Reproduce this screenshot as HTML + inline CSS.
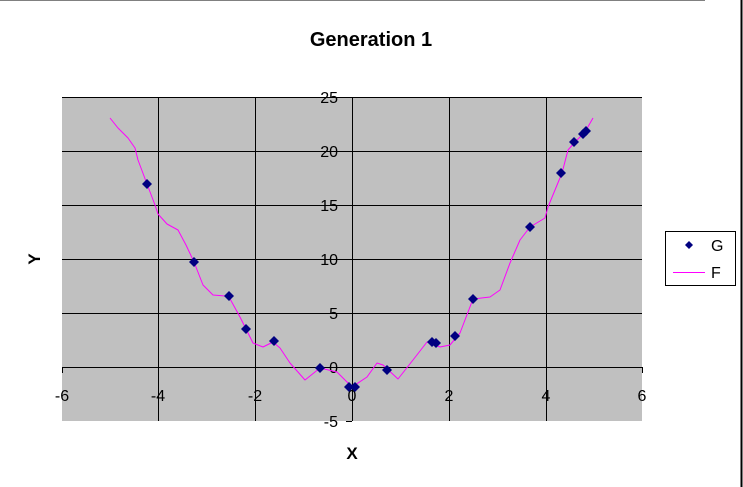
<!DOCTYPE html>
<html><head><meta charset="utf-8"><style>
body{margin:0;background:#fff;}
svg{display:block;font-family:"Liberation Sans",Arial,sans-serif;}
</style></head><body>
<svg width="743" height="487" viewBox="0 0 743 487">
<rect x="0" y="0" width="743" height="487" fill="#fff"/>
<line x1="0" y1="0.5" x2="705" y2="0.5" stroke="#808080"/>
<text x="371" y="46" font-size="20" font-weight="bold" text-anchor="middle">Generation 1</text>
<rect x="62" y="97" width="580" height="324" fill="#c0c0c0"/>
<g stroke="#000" stroke-width="1">
<line x1="62" y1="97.5" x2="642" y2="97.5"/>
<line x1="62" y1="151.5" x2="642" y2="151.5"/>
<line x1="62" y1="205.5" x2="642" y2="205.5"/>
<line x1="62" y1="259.5" x2="642" y2="259.5"/>
<line x1="62" y1="313.5" x2="642" y2="313.5"/>
<line x1="62" y1="367.5" x2="642" y2="367.5"/>
<line x1="158.5" y1="97" x2="158.5" y2="421"/>
<line x1="255.5" y1="97" x2="255.5" y2="421"/>
<line x1="352.5" y1="97" x2="352.5" y2="421"/>
<line x1="449.5" y1="97" x2="449.5" y2="421"/>
<line x1="546.5" y1="97" x2="546.5" y2="421"/>
<line x1="346" y1="97.5" x2="352" y2="97.5"/><line x1="346" y1="151.5" x2="352" y2="151.5"/>
<line x1="346" y1="205.5" x2="352" y2="205.5"/><line x1="346" y1="259.5" x2="352" y2="259.5"/>
<line x1="346" y1="313.5" x2="352" y2="313.5"/><line x1="346" y1="367.5" x2="352" y2="367.5"/>
<line x1="346" y1="421.5" x2="352" y2="421.5"/>
<line x1="62.5" y1="367" x2="62.5" y2="373"/><line x1="158.5" y1="367" x2="158.5" y2="373"/>
<line x1="255.5" y1="367" x2="255.5" y2="373"/><line x1="352.5" y1="367" x2="352.5" y2="373"/>
<line x1="449.5" y1="367" x2="449.5" y2="373"/><line x1="546.5" y1="367" x2="546.5" y2="373"/>
<line x1="642.5" y1="367" x2="642.5" y2="373"/>
</g>
<g font-size="16" text-anchor="end">
<text x="338" y="103">25</text><text x="338" y="157">20</text><text x="338" y="211">15</text>
<text x="338" y="265">10</text><text x="338" y="319">5</text><text x="338" y="373">0</text><text x="338" y="427">-5</text>
</g>
<g font-size="16" text-anchor="middle">
<text x="62" y="401">-6</text><text x="158" y="401">-4</text><text x="255" y="401">-2</text>
<text x="352" y="401">0</text><text x="449" y="401">2</text><text x="546" y="401">4</text><text x="642" y="401">6</text>
</g>
<text x="352" y="459" font-size="17" font-weight="bold" text-anchor="middle">X</text>
<text x="40" y="259" font-size="17" font-weight="bold" text-anchor="middle" transform="rotate(-90 40 259)">Y</text>
<polyline fill="none" stroke="#ff00ff" stroke-width="1" stroke-linejoin="round" points="110,118 118,128 128,138 135,148 138,160 147,184 155,205 158,214 167,224 178,230 186,245 194,262 203,285 213,295 225,296 229,297 240,317 246,329 253,343 263,347 273,342 280,348 290,363 305,380 320,368 337,372 352,387 367,377 377,363 383,365 398,379 413,360 427,342 440,347 450,345 460,333 473,299 490,297 500,290 510,263 520,240 530,227 545,218 548,207 562,173 568,150 575,142 585,132 593,118"/>
<g fill="#000080">
<path d="M147,179l5,5l-5,5l-5,-5z"/><path d="M194,257l5,5l-5,5l-5,-5z"/>
<path d="M229,291l5,5l-5,5l-5,-5z"/><path d="M246,324l5,5l-5,5l-5,-5z"/>
<path d="M274,336l5,5l-5,5l-5,-5z"/><path d="M320,363l5,5l-5,5l-5,-5z"/>
<path d="M349,382l5,5l-5,5l-5,-5z"/><path d="M355,382l5,5l-5,5l-5,-5z"/>
<path d="M387,365l5,5l-5,5l-5,-5z"/><path d="M432,337l5,5l-5,5l-5,-5z"/>
<path d="M436,338l5,5l-5,5l-5,-5z"/><path d="M455,331l5,5l-5,5l-5,-5z"/>
<path d="M473,294l5,5l-5,5l-5,-5z"/><path d="M530,222l5,5l-5,5l-5,-5z"/>
<path d="M561,168l5,5l-5,5l-5,-5z"/><path d="M574,137l5,5l-5,5l-5,-5z"/>
<path d="M583,129l5,5l-5,5l-5,-5z"/><path d="M586,126l5,5l-5,5l-5,-5z"/>
</g>
<rect x="665.5" y="231.5" width="70" height="54" fill="#fff" stroke="#000"/>
<path d="M689,241l4,4l-4,4l-4,-4z" fill="#000080"/>
<text x="711" y="251" font-size="16">G</text>
<line x1="673" y1="272.5" x2="705" y2="272.5" stroke="#ff00ff"/>
<text x="711" y="278" font-size="16">F</text>
<line x1="741.5" y1="0" x2="741.5" y2="487" stroke="#000" stroke-width="2"/>
</svg>
</body></html>
